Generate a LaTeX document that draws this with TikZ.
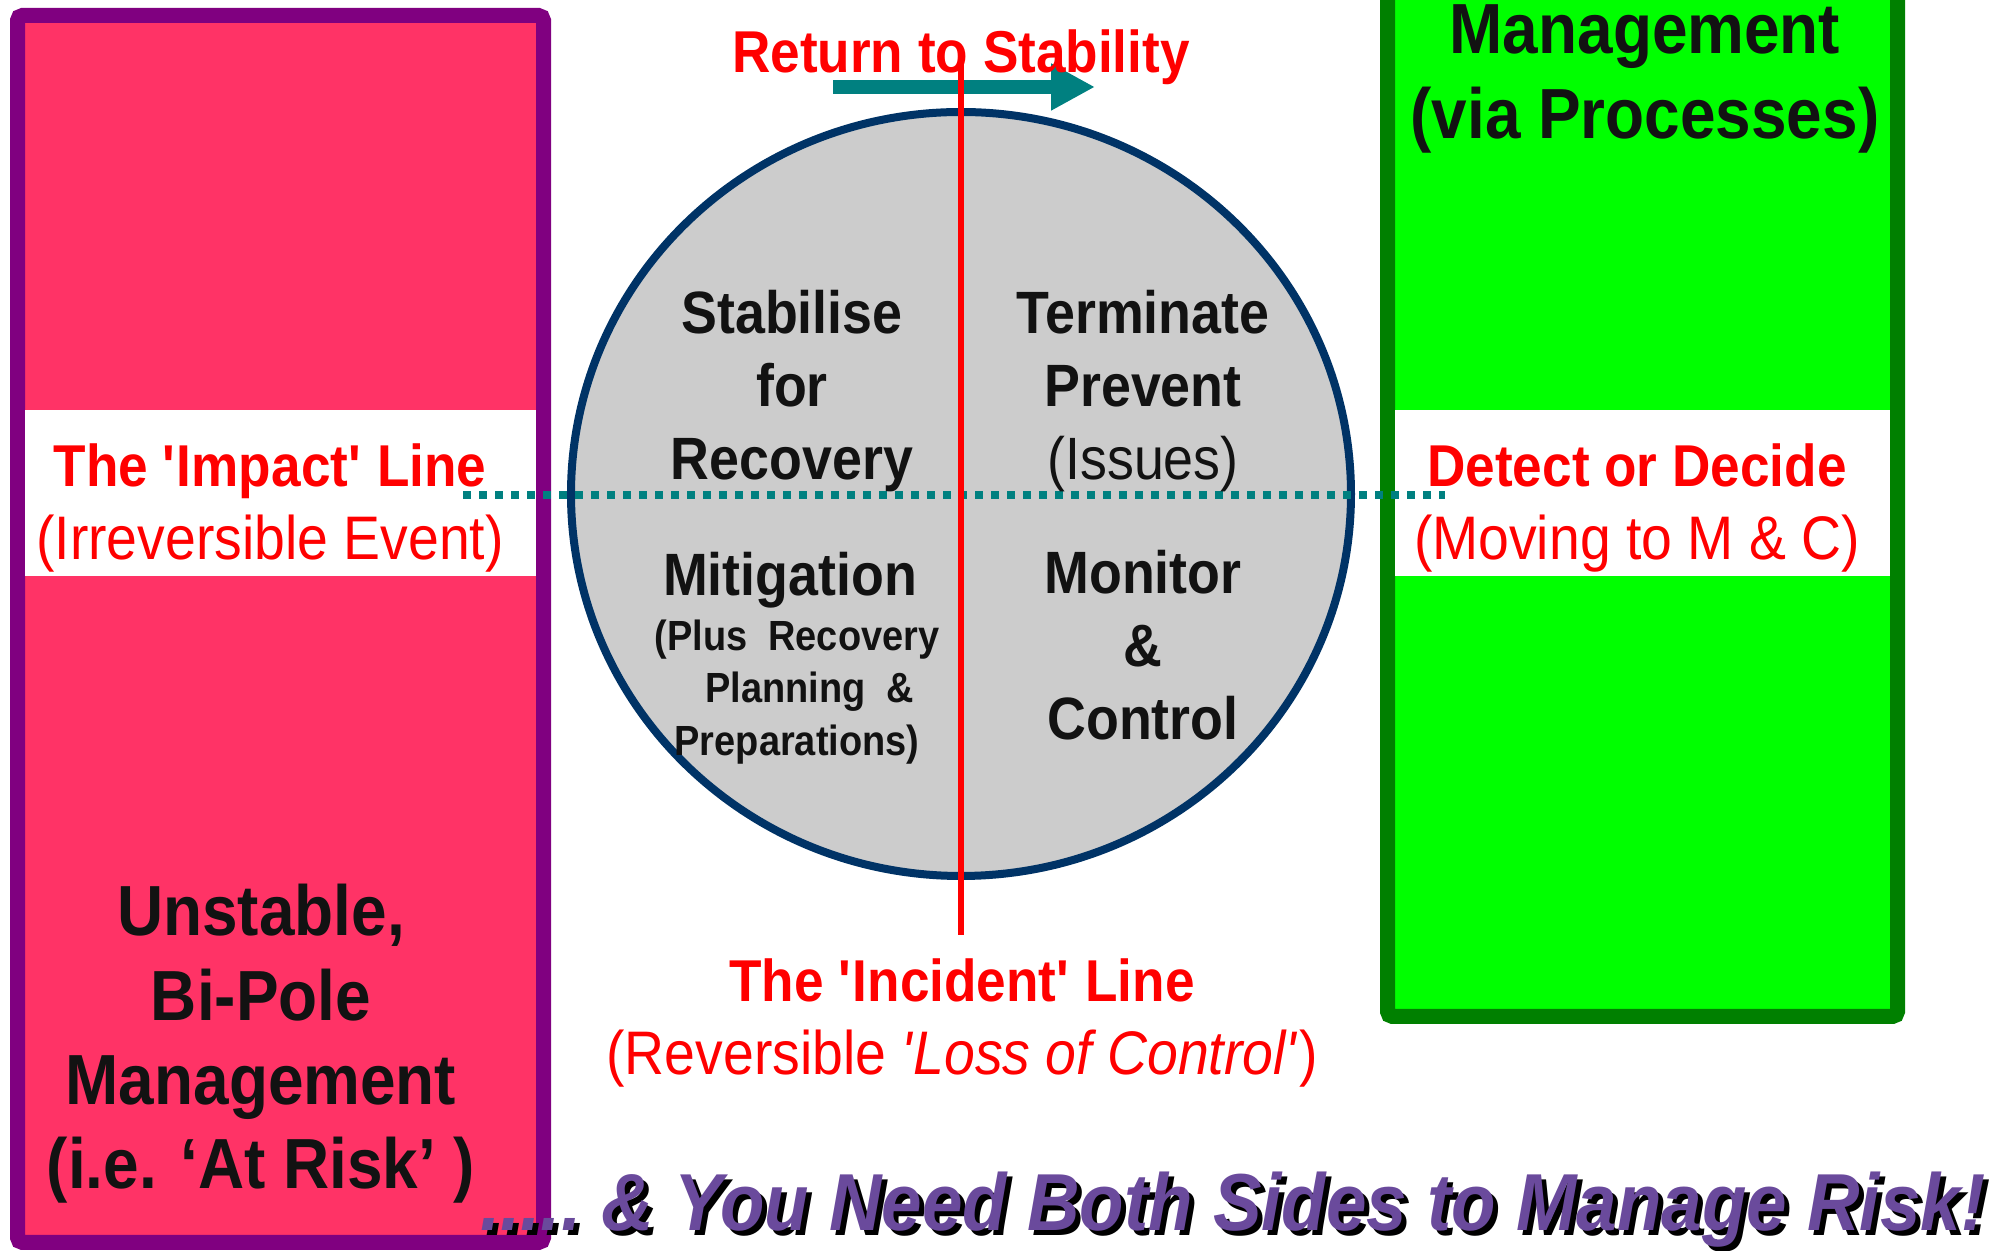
\documentclass[tikz,border=0pt]{standalone}
\usepackage{fontspec}
\setmainfont{Liberation Sans}[FakeStretch=0.9]
\usepackage{tikz}
\usetikzlibrary{arrows.meta, shapes.geometric}

\definecolor{riskpink}{HTML}{FF3366}
\definecolor{riskpurple}{HTML}{800080}
\definecolor{procgreen}{HTML}{00FF00}
\definecolor{procdark}{HTML}{008000}
\definecolor{circgrey}{HTML}{CCCCCC}
\definecolor{circblue}{HTML}{003366}
\definecolor{lineteal}{HTML}{008080}
\definecolor{tagpurple}{HTML}{6A4A9C}
\newcommand\riskmotto{.....\ \& You Need Both Sides to Manage Risk!}
\newcommand\sublbl{\fontsize{17.5pt}{20.8pt}\selectfont}

\begin{document}
\begin{tikzpicture}[every node/.style={align=center, inner sep=0pt, text=black!93},
    redlbl/.style={text=red, font=\fontsize{16.8pt}{20.8pt}\selectfont},
    quad/.style={font=\bfseries\fontsize{17pt}{20.8pt}\selectfont},
    quadsmall/.style={font=\bfseries\fontsize{12pt}{15pt}\selectfont},
    sidetext/.style={font=\bfseries\fontsize{20.2pt}{24pt}\selectfont},
    tagline/.style={font=\bfseries\itshape\fontsize{23pt}{27pt}\selectfont, anchor=base east}]
    \clip (0,0) rectangle (19.99,-12.51);
    \draw[riskpurple, fill=riskpink, line width=0.15cm, rounded corners=0.05cm] (0.175,-0.155) rectangle (5.435,-12.425);
    \draw[procdark, fill=procgreen, line width=0.15cm, rounded corners=0.05cm] (13.875,0.3) rectangle (18.975,-10.165);
    \fill[white] (0.25,-4.105) rectangle (5.36,-5.76);
    \fill[white] (13.95,-4.105) rectangle (18.90,-5.76);
    \node[draw=circblue, fill=circgrey, line width=0.08cm, ellipse, minimum width=7.8cm, minimum height=7.64cm] (circ) at (9.61,-4.94) {};

    \coordinate (dotL) at (4.63,-4.95);
    \coordinate (dotR) at (14.45,-4.95);
    \draw[lineteal, line width=0.075cm, dash pattern=on 0.075cm off 0.085cm] (dotL) -- (dotR);
    \coordinate (arrL) at (8.33,-0.87);
    \coordinate (arrR) at (10.95,-0.87);
    \draw[lineteal, line width=0.14cm, -{Triangle[length=0.44cm, width=0.44cm]}] (arrL) -- (arrR);
    \coordinate (incTop) at (9.61,-0.57);
    \coordinate (incBot) at (9.61,-9.35);
    \draw[red, line width=0.065cm] (incTop) -- (incBot);

    \node[redlbl] (ret) at (9.61,-0.57) {\textbf{Return to Stability}};
    \node[redlbl] (impact) at (2.70,-5.08) {\textbf{The \textquotesingle Impact\textquotesingle\ Line}\\{\sublbl(Irreversible Event)}};
    \node[redlbl] (detect) at (16.37,-5.08) {\textbf{Detect or Decide}\\{\sublbl(Moving to M \& C)}};
    \node[redlbl] (incident) at (9.62,-10.23) {\textbf{The \textquotesingle Incident\textquotesingle\ Line}\\{\sublbl(Reversible \textit{\textquotesingle Loss of Control\textquotesingle})}};

    \node[sidetext] (unstable) at (2.61,-10.44) {Unstable,\\Bi-Pole\\Management\\(i.e. `At Risk' )};
    \node[sidetext] (proc) at (16.45,-0.79) {Management\\(via Processes)};

    \node[quad] (stab) at (7.92,-3.91) {Stabilise\\for\\Recovery};
    \node[quad] (term) at (11.43,-3.91) {Terminate\\Prevent\\{\mdseries(Issues)}};
    \node[quad] (mitig) at (7.90,-5.80) {Mitigation};
    \node[quadsmall] (plan) at (7.97,-6.92) {(Plus~~Recovery\\\hspace*{0.6em}Planning~~\&\\Preparations)};
    \node[quad] (monitor) at (11.43,-6.45) {Monitor\\\&\\Control};

    \node[tagline, text=black] (tagsh) at (19.91,-12.36) {\riskmotto};
    \node[tagline, text=tagpurple] (tag) at (19.86,-12.31) {\riskmotto};
\end{tikzpicture}
\end{document}
